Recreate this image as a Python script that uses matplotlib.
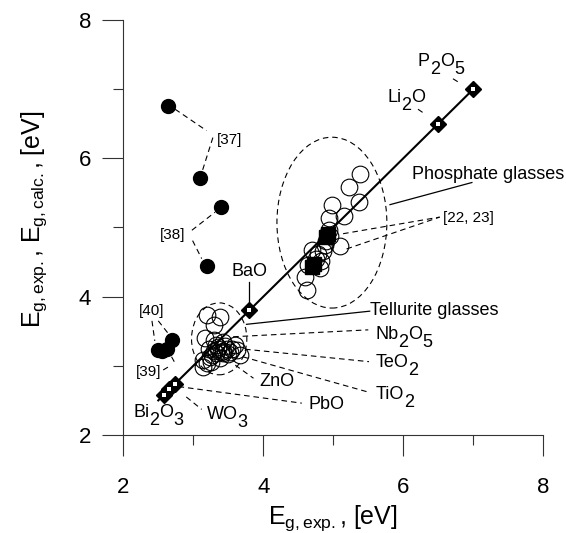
import re

import matplotlib
matplotlib.use("Agg")
import matplotlib.pyplot as plt
from matplotlib.patches import Ellipse
from matplotlib.ticker import MultipleLocator

plt.rcParams.update({
    "font.family": ["Liberation Sans", "DejaVu Sans"], "font.size": 13,
    "mathtext.fontset": "custom", "mathtext.rm": "Liberation Sans",
    "mathtext.it": "Liberation Sans:italic",
    "axes.spines.top": False, "axes.spines.right": False,
})

# ---- data --------------------------------------------------------------
# open circles, tellurite glasses
tel_x = [3.19, 3.38, 3.29, 3.17, 3.29, 3.43, 3.60, 3.62, 3.52, 3.43, 3.33,
         3.24, 3.14, 3.26, 3.14, 3.38, 3.48, 3.67, 3.36, 3.22, 3.30, 3.45,
         3.55, 3.20, 3.40, 3.32, 3.50, 3.27, 3.35, 3.42]
tel_y = [3.73, 3.71, 3.59, 3.40, 3.37, 3.35, 3.30, 3.23, 3.20, 3.18, 3.18,
         3.13, 3.08, 3.06, 2.99, 3.11, 3.25, 3.15, 3.27, 3.25, 3.22, 3.28,
         3.24, 3.04, 3.20, 3.30, 3.17, 3.16, 3.24, 3.22]
# open circles, phosphate glasses
pho_x = [5.38, 5.23, 5.37, 4.98, 5.15, 4.94, 4.94, 5.10, 4.69, 4.86, 4.83,
         4.64, 4.60, 4.62, 4.81, 4.90, 4.75, 4.78, 4.88, 4.96]
pho_y = [5.78, 5.59, 5.37, 5.33, 5.16, 5.13, 4.97, 4.73, 4.68, 4.66, 4.51,
         4.46, 4.29, 4.10, 4.41, 4.80, 4.55, 4.62, 4.75, 4.88]
# filled circles, refs [37]-[40]
ref_x = [2.64, 3.10, 3.40, 3.19, 2.50, 2.56, 2.62, 2.69]
ref_y = [6.75, 5.71, 5.29, 4.44, 3.23, 3.22, 3.25, 3.37]
# filled squares, refs [22, 23]
sq_x = [4.70, 4.73, 4.90, 4.93]
sq_y = [4.43, 4.47, 4.86, 4.90]
# single oxides (diamonds, Eg,exp. = Eg,calc.)
oxides = ["Bi2O3", "PbO", "WO3", "BaO", "Li2O", "P2O5"]
oxide_eg = [2.58, 2.66, 2.74, 3.80, 6.50, 7.00]
line_x = [2.5, 7.0]

# ---- annotation layout --------------------------------------------------
FORMULAS = [("P2O5", 6.21, 7.27), ("Li2O", 5.77, 6.75), ("BaO", 3.54, 4.24),
            ("Nb2O5", 5.60, 3.33), ("TeO2", 5.60, 2.92), ("TiO2", 5.60, 2.46),
            ("ZnO", 3.94, 2.65), ("PbO", 4.64, 2.32), ("WO3", 3.19, 2.17),
            ("Bi2O3", 2.14, 2.20)]
LABELS = [("Phosphate glasses", 6.13, 5.77, 13, "left"),
          ("Tellurite glasses", 5.53, 3.80, 13, "left"),
          ("[22, 23]", 6.57, 5.14, 11, "left"),
          ("[37]", 3.33, 6.27, 11, "left"),
          ("[38]", 2.71, 4.89, 11, "center"),
          ("[40]", 2.41, 3.79, 11, "center"),
          ("[39]", 2.36, 2.91, 11, "center")]
DASHED = [((2.74, 6.71), (3.19, 6.40)), ((3.28, 6.30), (3.13, 5.82)),
          ((2.98, 4.96), (3.31, 5.22)), ((2.99, 4.81), (3.12, 4.55)),
          ((2.41, 3.65), (2.45, 3.36)), ((2.50, 3.65), (2.64, 3.47)),
          ((2.57, 2.94), (2.67, 3.00)), ((2.69, 3.13), (2.75, 3.02)),
          ((5.14, 4.91), (6.52, 5.15)), ((5.19, 4.69), (6.52, 5.15)),
          ((3.57, 3.42), (5.50, 3.52)), ((3.74, 3.24), (5.51, 3.06)),
          ((3.71, 3.13), (5.50, 2.62)), ((3.60, 3.01), (3.86, 2.82)),
          ((2.79, 2.70), (4.55, 2.46)), ((2.90, 2.55), (3.12, 2.37)),
          ((6.21, 6.71), (6.31, 6.64)), ((6.71, 7.15), (6.79, 7.10))]
SOLID = [((3.80, 4.21), (3.80, 3.86)), ((3.76, 3.60), (5.52, 3.79)),
         ((5.81, 5.33), (6.98, 5.65))]


def formula(ax, s, x, y, size=13):
    """Chemical formula with big, well-dropped subscripts."""
    prev, prev_dy = None, 0.0
    for part in re.findall(r"\d+|\D+", s):
        dy = -0.42 * size if part.isdigit() else 0.0
        if prev is None:
            prev = ax.annotate(part, (x, y), xytext=(0, dy),
                               textcoords="offset points", fontsize=size,
                               ha="left", va="bottom")
        else:
            prev = ax.annotate(part, (1, 0), xycoords=prev,
                               xytext=(0, dy - prev_dy),
                               textcoords="offset points", fontsize=size,
                               ha="left", va="bottom")
        prev_dy = dy


fig = plt.figure(figsize=(5.66, 5.33), dpi=100)
ax = fig.add_axes([0.2178, 0.1839, 0.7421, 0.7786])

dash = dict(color="black", lw=0.8, ls=(0, (5, 3.5)))
ax.add_patch(Ellipse((4.98, 5.07), 1.57, 2.47, fill=False, **dash))
ax.add_patch(Ellipse((3.37, 3.39), 0.79, 1.04, fill=False, **dash))
for (x0, y0), (x1, y1) in DASHED:
    ax.plot([x0, x1], [y0, y1], **dash)
for (x0, y0), (x1, y1) in SOLID:
    ax.plot([x0, x1], [y0, y1], color="black", lw=0.9)

ax.plot(line_x, line_x, color="black", lw=1.5, zorder=3)
ax.plot(tel_x, tel_y, "o", ms=12, mfc="none", mec="black", mew=0.8)
ax.plot(pho_x, pho_y, "o", ms=12, mfc="none", mec="black", mew=0.8)
ax.plot(ref_x, ref_y, "o", ms=10, color="black")
ax.plot(sq_x, sq_y, "s", ms=10, color="black", zorder=4)
ax.plot(oxide_eg, oxide_eg, "D", ms=8.5, color="black", zorder=5)
ax.plot(oxide_eg, oxide_eg, "s", ms=2.2, color="white", mew=0, zorder=6)

for s, x, y in FORMULAS:
    formula(ax, s, x, y)
for s, x, y, size, ha in LABELS:
    ax.text(x, y, s, fontsize=size, ha=ha, va="center")

ax.set_xlim(2, 8)
ax.set_ylim(2, 8)
for axis in (ax.xaxis, ax.yaxis):
    axis.set_major_locator(MultipleLocator(2))
    axis.set_minor_locator(MultipleLocator(1))
ax.tick_params(which="major", direction="out", length=15, width=0.8,
               labelsize=16, color="#333333")
ax.tick_params(which="minor", direction="out", length=7.5, width=0.8,
               color="#333333")
ax.tick_params(axis="x", which="major", pad=15)
ax.tick_params(axis="y", which="major", pad=8)
for sp in ("left", "bottom"):
    ax.spines[sp].set_linewidth(0.8)
    ax.spines[sp].set_color("#333333")

ax.set_xlabel(r"$\mathregular{E_{g,exp.}}$, [eV]", fontsize=18)
ax.set_ylabel(r"$\mathregular{E_{g,exp.}}$, $\mathregular{E_{g,calc.}}$, [eV]",
              fontsize=18)
ax.xaxis.set_label_coords(0.5, -0.165)
ax.yaxis.set_label_coords(-0.178, 0.52)

fig.savefig("out.png", dpi=100)
